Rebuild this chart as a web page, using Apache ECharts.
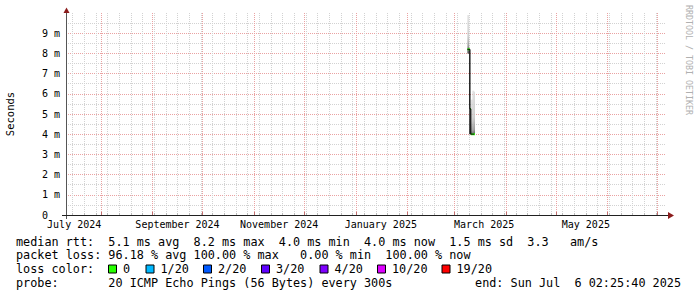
<!DOCTYPE html>
<html><head><meta charset="utf-8">
<script src="https://cdn.jsdelivr.net/npm/echarts@6/dist/echarts.min.js"></script>
<style>html,body{margin:0;padding:0;background:#fff}#c{width:697px;height:297px}</style>
</head><body><div id="c"></div>
<script>
// ---- time range (360 days ending at probe end time) ----
const END = Date.UTC(2025, 6, 6, 2, 25, 40);
const START = END - 360 * 86400000;

// ---- axis ticks / labels ----
const monthStarts = ['2024-08-01','2024-09-01','2024-10-01','2024-11-01','2024-12-01','2025-01-01',
  '2025-02-01','2025-03-01','2025-04-01','2025-05-01','2025-06-01','2025-07-01'];
const labelDates = ['2024-07-16','2024-09-16','2024-11-16','2025-01-16','2025-03-19','2025-05-19'];
const xLabels = ['July 2024','September 2024','November 2024','January 2025','March 2025','May 2025'];
const firstMonday = '2024-07-15';

// ---- data (12h bins), values in ms ----
const binStart = ['2025-03-09T00:00','2025-03-09T12:00','2025-03-10T00:00','2025-03-10T12:00',
  '2025-03-11T00:00','2025-03-11T12:00','2025-03-12T00:00','2025-03-12T12:00','2025-03-13T00:00'];
const medianRtt = [8.2, 8.2, 8.2, 5.25, 4.0, 4.0, 4.0, 4.0, 4.0];
const smokeLow  = [8.0, 8.0, 4.0, 4.0, 4.0, 4.0, 4.0, 4.0, 4.0];
const smokeHigh = [9.9, 9.9, 8.2, 5.25, 5.7, 5.7, 6.15, 6.15, 6.1];
const lossIdx   = [0, 0, 0, 0, 0, 0, 0, 0, 0];

// ---- legend ----
const lossLabels = ['0','1/20','2/20','3/20','4/20','10/20','19/20'];
const lossColors = ['#26ff00','#00b8ff','#0059ff','#5e00ff','#7e00ff','#dd00ff','#ff0000'];
const legendRows = [
  'median rtt:  5.1 ms avg  8.2 ms max  4.0 ms min  4.0 ms now  1.5 ms sd  3.3   am/s',
  'packet loss: 96.18 % avg 100.00 % max   0.00 % min  100.00 % now',
  'loss color:',
  'probe:       20 ICMP Echo Pings (56 Bytes) every 300s'
];
const endText = 'end: Sun Jul  6 02:25:40 2025';

const toT = s => Date.parse(s.length === 10 ? s + 'T00:00:00Z' : s + ':00Z');
const monthTicks = monthStarts.map(toT).filter(t => t > START && t < END);
const labelTicks = labelDates.map(toT);
const weekTicks = [];
for (let t = toT(firstMonday); t < END; t += 7 * 86400000) weekTicks.push(t);

const STEP = 12 * 3600000;
const smokeData = binStart.map((s, i) => [toT(s), toT(s) + STEP, smokeLow[i], smokeHigh[i], medianRtt[i], lossIdx[i]]);
const medianLine = binStart.map((s, i) => [toT(s), medianRtt[i]]);

const MONO = '"DejaVu Sans Mono", monospace';
const chart = echarts.init(document.getElementById('c'), null, {renderer: 'svg', width: 697, height: 297});

const graphics = [];
graphics.push({type:'line', shape:{x1:66.5, y1:219, x2:66.5, y2:11}, style:{stroke:'#555', lineWidth:1}, z:50});
graphics.push({type:'line', shape:{x1:62, y1:215.5, x2:669, y2:215.5}, style:{stroke:'#202020', lineWidth:1}, z:50});
graphics.push({type:'polygon', shape:{points:[[63.5,13],[69.5,13],[66.5,7.5]]}, style:{fill:'#8b1c1c'}, z:51});
graphics.push({type:'polygon', shape:{points:[[668,212],[668,219],[674,215.5]]}, style:{fill:'#8b1c1c'}, z:51});
graphics.push({type:'text', x:10, y:114, rotation:Math.PI/2,
  style:{text:'Seconds', font:'10.5px ' + MONO, fill:'#000', align:'center', verticalAlign:'middle'}});
graphics.push({type:'text', x:688.5, y:60, rotation:-Math.PI/2,
  style:{text:'RRDTOOL / TOBI OETIKER', font:'8.3px ' + MONO, fill:'#b0b0b0', align:'center', verticalAlign:'middle'}});
const rowY = [241.5, 255.3, 269, 282.8];
legendRows.forEach((txt, i) => graphics.push({type:'text', x:16, y:rowY[i],
  style:{text:txt, font:'11.8px ' + MONO, fill:'#000', align:'left', verticalAlign:'middle'}}));
graphics.push({type:'text', x:681, y:rowY[3],
  style:{text:endText, font:'11.8px ' + MONO, fill:'#000', align:'right', verticalAlign:'middle'}});
const boxX = [108.5, 146, 203.5, 261.5, 320, 377.5, 442];
lossLabels.forEach((lab, i) => {
  graphics.push({type:'rect', shape:{x:boxX[i], y:265, width:8, height:8}, style:{fill:lossColors[i], stroke:'#000', lineWidth:1}});
  graphics.push({type:'text', x:boxX[i] + 14.5, y:rowY[2],
    style:{text:lab, font:'11.8px ' + MONO, fill:'#000', align:'left', verticalAlign:'middle'}});
});

const option = {
  backgroundColor: '#fff',
  animation: false,
  grid: {left: 66, right: 31, top: 13, bottom: 82, containLabel: false},
  xAxis: [
    {type:'value', min:START, max:END, position:'bottom', scale:true,
     axisLine:{show:false},
     axisTick:{show:true, customValues: weekTicks, inside:true, length:2, lineStyle:{color:'#bbb'}},
     axisLabel:{show:false},
     splitLine:{show:true, lineStyle:{color:'#d2d2d2', type:[1,1], width:1}}},
    {type:'value', min:START, max:END, position:'bottom', scale:true,
     axisLine:{show:false},
     axisTick:{show:true, customValues: monthTicks, inside:true, length:3, lineStyle:{color:'#c07070'}},
     axisLabel:{show:true, customValues: labelTicks, hideOverlap:false,
       formatter: v => xLabels[labelTicks.indexOf(v)] || '',
       fontFamily: MONO, fontSize:10, color:'#000', margin:4},
     splitLine:{show:true, lineStyle:{color:'#eaa2a2', type:[1,1], width:1}}}
  ],
  yAxis: {type:'value', min:0, max:10, interval:1,
    axisLine:{show:false}, axisTick:{show:false},
    splitLine:{show:true, showMaxLine:false, lineStyle:{color:'#eaa2a2', type:[1,1], width:1}},
    minorTick:{show:false, splitNumber:2},
    minorSplitLine:{show:true, lineStyle:{color:'#d2d2d2', type:[1,1], width:1}},
    axisLabel:{fontFamily: MONO, fontSize:10, color:'#000', margin:6, showMaxLabel:false,
      formatter: v => v === 0 ? '{z|0}' : (v + ' m'),
      rich:{z:{fontFamily: MONO, fontSize:10, color:'#000', padding:[0,12,0,0]}}}},
  graphic: graphics,
  series: [
    {type:'custom', xAxisIndex:0, yAxisIndex:0, data: smokeData, z:3,
     renderItem: (params, api) => {
       const t0 = api.value(0), t1 = api.value(1), lo = api.value(2), hi = api.value(3), md = api.value(4), li = api.value(5);
       const pA = api.coord([t0, hi]), pB = api.coord([t1, lo]), pM = api.coord([t0, md]);
       const h = Math.max(pB[1] - pA[1], 0.5);
       let f = (pM[1] - pA[1]) / h; f = Math.min(1, Math.max(0, f));
       const stops = [{offset:0, color:'#dadada'}, {offset:0.6*f, color:'#c4c4c4'},
                      {offset:0.9*f, color:'#8a8a8a'}, {offset:f, color:'#404040'}];
       if (f < 1) stops.push({offset:1, color:'#2a2a2a'});
       return {type:'group', children:[
         {type:'rect', shape:{x:pA[0], y:pA[1], width:pB[0]-pA[0], height:h},
          style:{fill: new echarts.graphic.LinearGradient(0,0,0,1, stops)}},
         {type:'line', shape:{x1:pA[0], y1:pM[1], x2:pB[0], y2:pM[1]},
          style:{stroke: lossColors[li], lineWidth:2}, z2:10}
       ]};
     }},
    {type:'line', xAxisIndex:0, yAxisIndex:0, data: medianLine, step:'end', showSymbol:false, z:4,
     lineStyle:{color:'#000', width:1}}
  ]
};
chart.setOption(option);
</script></body></html>
